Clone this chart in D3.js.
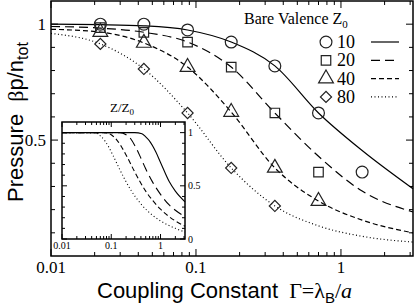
<!DOCTYPE html>
<html>
<head>
<meta charset="utf-8">
<script src="https://cdn.jsdelivr.net/npm/d3@7"></script>
<style>
  body { margin: 0; background: #fff; }
  svg { display: block; }
  .serif { font-family: "Liberation Serif", "DejaVu Serif", serif; }
  .sans { font-family: "Liberation Sans", Arial, sans-serif; }
</style>
</head>
<body>
<svg width="415" height="307"></svg>
<script>
// symbol data (coupling constant, pressure)
const symGamma = [0.0219, 0.0437, 0.0875, 0.175, 0.35, 0.70, 1.40];
const sym10 = [1.0, 1.0, 0.975, 0.923, 0.82, 0.617, 0.362];
const sym20 = [0.985, 0.965, 0.923, 0.815, 0.617, 0.362];
const sym40 = [0.966, 0.919, 0.815, 0.621, 0.38, 0.237];
const sym80 = [0.915, 0.807, 0.617, 0.38, 0.216];

// theory curves
const lineGamma = [0.01, 0.0219, 0.0437, 0.0875, 0.175, 0.35, 0.7, 1.4, 3.14];
const line10 = [1.0, 0.998, 0.993, 0.975, 0.923, 0.82, 0.617, 0.455, 0.29];
const line20 = [0.99, 0.983, 0.965, 0.923, 0.815, 0.617, 0.43, 0.28, 0.19];
const line40 = [0.978, 0.966, 0.919, 0.815, 0.621, 0.38, 0.237, 0.155, 0.10];
const line80 = [0.96, 0.915, 0.807, 0.617, 0.38, 0.216, 0.13, 0.085, 0.06];

// inset: renormalized charge Z/Z0
const inG10 = [0.01, 0.3, 0.42, 0.5, 0.6, 0.8, 1.0, 1.5, 2.0, 3.14];
const inZ10 = [1, 1, 0.99, 0.96, 0.92, 0.82, 0.72, 0.54, 0.45, 0.35];
const inG20 = [0.01, 0.15, 0.2, 0.25, 0.3, 0.4, 0.5, 0.7, 1, 1.5, 2, 3.14];
const inZ20 = [1, 1, 0.98, 0.94, 0.88, 0.76, 0.66, 0.53, 0.42, 0.32, 0.27, 0.21];
const inG40 = [0.01, 0.075, 0.1, 0.13, 0.16, 0.2, 0.3, 0.5, 0.7, 1, 2, 3.14];
const inZ40 = [1, 1, 0.98, 0.93, 0.87, 0.79, 0.63, 0.45, 0.36, 0.28, 0.17, 0.12];
const inG80 = [0.01, 0.045, 0.06, 0.075, 0.09, 0.11, 0.15, 0.25, 0.4, 0.7, 1, 2, 3.14];
const inZ80 = [1, 1, 0.97, 0.92, 0.86, 0.78, 0.65, 0.46, 0.33, 0.22, 0.17, 0.1, 0.065];

const valences = ["10", "20", "40", "80"];
const dashes = [null, "9,5", "5,3", "1,2.5"];

const svg = d3.select("svg");

const x = d3.scaleLog().domain([0.01, 3.14]).range([51, 413]);
const y = d3.scaleLinear().domain([0, 1.1]).range([256, 1]);

const isMajor = v => Math.abs(Math.log10(v) - Math.round(Math.log10(v))) < 1e-6;
const allTicks = x.ticks();

// marker shapes; the diamond is a square turned 45 degrees
function marker(sel, i, px, py) {
    const types = [d3.symbolCircle, d3.symbolSquare, d3.symbolTriangle, d3.symbolSquare];
    const sizes = [110, 90, 95, 62];
    return sel.append("path")
        .attr("transform", `translate(${px},${py})` + (i === 3 ? " rotate(45)" : ""))
        .attr("d", d3.symbol().type(types[i]).size(sizes[i]))
        .attr("fill", "none")
        .attr("stroke", "#222")
        .attr("stroke-width", 1.2);
}

function drawFrame(g, xs, ys, majorLen, minorLen, yMinor, yMajor) {
    const [x0, x1] = xs.range();
    const [y0, y1] = ys.range();
    // ticks on all four sides, pointing inward
    allTicks.forEach(t => {
        const len = isMajor(t) ? majorLen : minorLen;
        const px = xs(t);
        g.append("line").attr("x1", px).attr("x2", px).attr("y1", y0).attr("y2", y0 - len)
            .attr("stroke", "#000").attr("stroke-width", 1);
        g.append("line").attr("x1", px).attr("x2", px).attr("y1", y1).attr("y2", y1 + len)
            .attr("stroke", "#000").attr("stroke-width", 1);
    });
    yMinor.forEach(t => {
        const len = yMajor.includes(t) ? majorLen : minorLen;
        const py = ys(t);
        g.append("line").attr("x1", x0).attr("x2", x0 + len).attr("y1", py).attr("y2", py)
            .attr("stroke", "#000").attr("stroke-width", 1);
        g.append("line").attr("x1", x1).attr("x2", x1 - len).attr("y1", py).attr("y2", py)
            .attr("stroke", "#000").attr("stroke-width", 1);
    });
    g.append("rect").attr("x", x0).attr("y", y1).attr("width", x1 - x0).attr("height", y0 - y1)
        .attr("fill", "none").attr("stroke", "#000").attr("stroke-width", 1.5);
}

const yTicks = d3.range(1, 11).map(d => +(d / 10).toFixed(1));

// main curves
const line = d3.line().x(d => x(d[0])).y(d => y(d[1])).curve(d3.curveMonotoneX);
[line10, line20, line40, line80].forEach((s, i) => {
    svg.append("path")
        .datum(lineGamma.map((g, j) => [g, s[j]]))
        .attr("d", line)
        .attr("fill", "none")
        .attr("stroke", "#000")
        .attr("stroke-width", 1.2)
        .attr("stroke-dasharray", dashes[i]);
});

// symbols
[sym10, sym20, sym40, sym80].forEach((s, i) => {
    const g = svg.append("g");
    s.forEach((v, j) => marker(g, i, x(symGamma[j]), y(v)));
});

drawFrame(svg.append("g"), x, y, 7, 4, yTicks, [0.5, 1]);

// main tick labels
svg.append("g").selectAll("text")
    .data([0.01, 0.1, 1])
    .join("text")
    .attr("class", "serif")
    .attr("x", d => x(d))
    .attr("y", 273)
    .attr("text-anchor", "middle")
    .attr("font-size", 17)
    .text(d => d);

svg.append("g").selectAll("text")
    .data([0.5, 1])
    .join("text")
    .attr("class", "serif")
    .attr("x", 46)
    .attr("y", d => y(d) + 6)
    .attr("text-anchor", "end")
    .attr("font-size", 17)
    .text(d => d);

// axis titles
const xt = svg.append("text").attr("x", 97).attr("y", 298).attr("font-size", 22);
xt.append("tspan").attr("class", "sans").text("Coupling Constant ");
xt.append("tspan").attr("class", "serif").attr("dx", 5).text("\u0393=\u03bb");
xt.append("tspan").attr("class", "sans").attr("font-size", 15).attr("dy", 5).text("B");
xt.append("tspan").attr("class", "serif").attr("dy", -5).text("/");
xt.append("tspan").attr("class", "serif").attr("font-style", "italic").text("a");

const yt = svg.append("text")
    .attr("transform", "translate(23,122) rotate(-90)")
    .attr("text-anchor", "middle")
    .attr("font-size", 22);
yt.append("tspan").attr("class", "sans").text("Pressure ");
yt.append("tspan").attr("class", "serif").attr("dx", 6).text("\u03b2");
yt.append("tspan").attr("class", "sans").text("p/n");
yt.append("tspan").attr("class", "sans").attr("font-size", 16).attr("dy", 5).text("tot");

// legend
const lg = svg.append("text").attr("class", "serif").attr("x", 244).attr("y", 24).attr("font-size", 16);
lg.append("tspan").text("Bare Valence Z");
lg.append("tspan").attr("font-size", 11).attr("dy", 4).text("0");

valences.forEach((v, i) => {
    const ly = 42 + i * 18.3;
    marker(svg, i, 326, ly);
    svg.append("text").attr("class", "serif")
        .attr("x", 337).attr("y", ly + 6).attr("font-size", 18).text(v);
    svg.append("line")
        .attr("x1", 371).attr("x2", 399).attr("y1", ly).attr("y2", ly)
        .attr("stroke", "#000").attr("stroke-width", 1.2)
        .attr("stroke-dasharray", dashes[i]);
});

// inset
const ix = d3.scaleLog().domain([0.01, 3.14]).range([62, 185]);
const iy = d3.scaleLinear().domain([0, 1.1]).range([239, 122]);
const inset = svg.append("g");
inset.append("rect").attr("x", 62).attr("y", 122).attr("width", 123).attr("height", 117).attr("fill", "#fff");

const iline = d3.line().x(d => ix(d[0])).y(d => iy(d[1])).curve(d3.curveMonotoneX);
[[inG10, inZ10], [inG20, inZ20], [inG40, inZ40], [inG80, inZ80]].forEach(([gs, zs], i) => {
    inset.append("path")
        .datum(gs.map((g, j) => [g, zs[j]]))
        .attr("d", iline)
        .attr("fill", "none")
        .attr("stroke", "#000")
        .attr("stroke-width", 1.1)
        .attr("stroke-dasharray", dashes[i]);
});

drawFrame(inset, ix, iy, 5, 3, d3.range(0, 11).map(d => +(d / 10).toFixed(1)), [0, 0.5, 1]);

inset.append("g").selectAll("text")
    .data([0.01, 0.1, 1])
    .join("text")
    .attr("class", "serif")
    .attr("x", d => ix(d))
    .attr("y", 249)
    .attr("text-anchor", "middle")
    .attr("font-size", 10)
    .text(d => d);

inset.append("g").selectAll("text")
    .data([0, 0.5, 1])
    .join("text")
    .attr("class", "serif")
    .attr("x", 188)
    .attr("y", d => iy(d) + 3.5)
    .attr("font-size", 10)
    .text(d => d);

const zt = svg.append("text").attr("class", "serif").attr("x", 110).attr("y", 112).attr("font-size", 13);
zt.append("tspan").text("Z/Z");
zt.append("tspan").attr("font-size", 9).attr("dy", 3).text("0");
</script>
</body>
</html>
